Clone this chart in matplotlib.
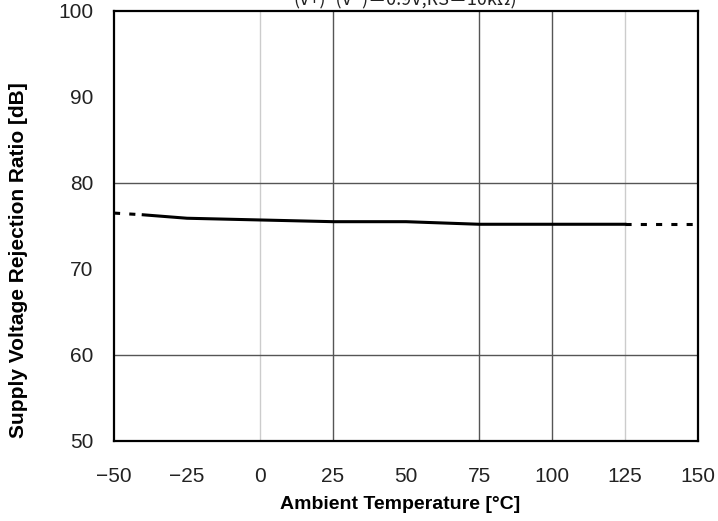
import matplotlib
matplotlib.use("Agg")
import matplotlib.pyplot as plt

# SVRR vs ambient temperature
temp_dash_lo = [-50, -40]
svrr_dash_lo = [76.5, 76.3]
temp = [-40, -25, 0, 25, 50, 75, 100, 125]
svrr = [76.3, 75.9, 75.7, 75.5, 75.5, 75.2, 75.2, 75.2]
temp_dash_hi = [125, 150]
svrr_dash_hi = [75.2, 75.2]

xticks = [-50, -25, 0, 25, 50, 75, 100, 125, 150]
xtick_labels = ["\u221250", "\u221225", "0", "25", "50", "75", "100", "125", "150"]
yticks = [50, 60, 70, 80, 90, 100]

plt.rcParams['font.family'] = ['Liberation Sans', 'DejaVu Sans']

fig = plt.figure(figsize=(7.18, 5.21), dpi=100)
ax = fig.add_axes([0.1588, 0.1536, 0.8134, 0.8253])

# grid lines as in the original (only some of them drawn)
for x in [25, 75, 100]:
    ax.axvline(x, color='#555555', lw=1.0, zorder=1)
for x in [0, 125]:
    ax.axvline(x, color='#cccccc', lw=1.0, zorder=1)
for y in [60, 80]:
    ax.axhline(y, color='#555555', lw=1.0, zorder=1)

ax.plot(temp, svrr, color='black', lw=2.2, zorder=3)
ax.plot(temp_dash_lo, svrr_dash_lo, color='black', lw=2.2, ls=(0, (2, 3)), zorder=3)
ax.plot(temp_dash_hi, svrr_dash_hi, color='black', lw=2.2, ls=(0, (2, 3)), zorder=3)

ax.set_xlim(-50, 150)
ax.set_ylim(50, 100)
ax.set_xticks(xticks)
ax.set_xticklabels(xtick_labels)
ax.set_yticks(yticks)
ax.tick_params(axis='both', length=0, labelsize=15, colors='#222222')
ax.tick_params(axis='x', pad=19)
ax.tick_params(axis='y', pad=15)
for s in ax.spines.values():
    s.set_linewidth(1.6)
    s.set_color('black')

ax.set_xlabel("Ambient Temperature [\u00b0C]", fontsize=14, fontweight='bold')
ax.set_ylabel("Supply Voltage Rejection Ratio [dB]", fontsize=15, fontweight='bold')
ax.xaxis.set_label_coords(0.49, -0.128)
ax.yaxis.set_label_coords(-0.164, 0.42)
ax.yaxis.label.set_va('center')

# title partially cut off at the top edge
fig.text(0.565, 1.0, "(V+)\u2212(V\u2212)\uff1d0.9V,RS\uff1d10k\u03a9)", ha='center', va='center',
         fontsize=13, color='#222222', family=['Noto Sans CJK JP', 'DejaVu Sans'])

fig.savefig("out.png", dpi=100)
